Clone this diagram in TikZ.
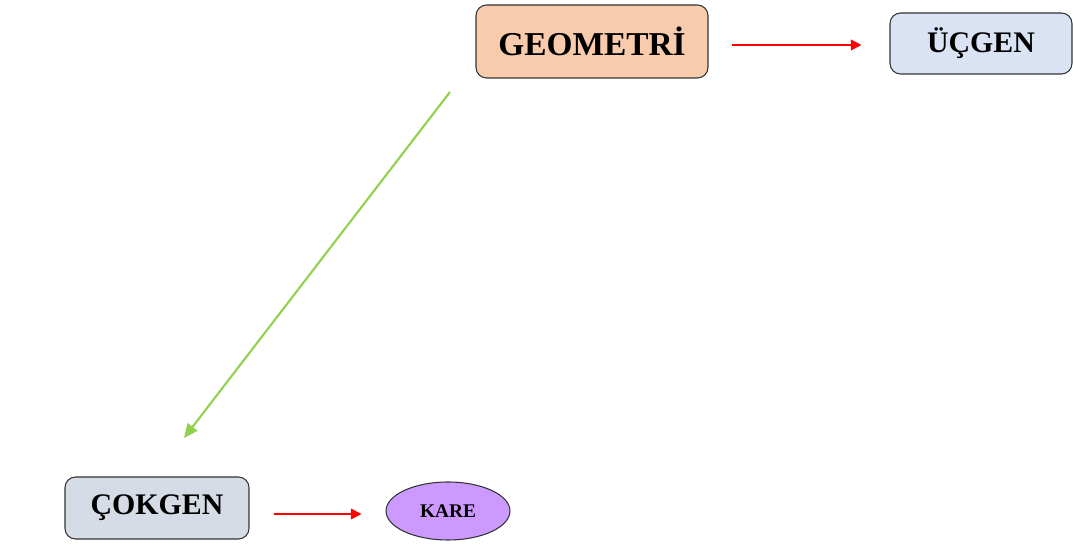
\documentclass[tikz,border=0pt]{standalone}
\usepackage{fontspec}
\setmainfont{Liberation Serif}
\usepackage{xcolor}
\usetikzlibrary{shapes,arrows.meta,positioning,calc}

\definecolor{peach}{HTML}{F8CBAD}
\definecolor{paleblue}{HTML}{DAE3F3}
\definecolor{palegrey}{HTML}{D6DCE5}
\definecolor{violet}{HTML}{CC99FF}
\definecolor{lgreen}{HTML}{92D050}

\begin{document}
\begin{tikzpicture}[
    x=0.02cm, y=-0.02cm,
    >=Triangle,
    box/.style={draw=black!80, rounded corners=6pt, line width=0.6pt, align=center, font=\bfseries},
    redarrow/.style={red, line width=1pt, arrows={-Triangle[length=6pt, width=6pt]}},
]
\useasboundingbox (0,0) rectangle (1073,546);

% Top box
\node[box, fill=peach, minimum width=4.64cm, minimum height=1.46cm, font=\bfseries\fontsize{19}{22}\selectfont] (geo) at (592,41.5) {GEOMETRİ};

% Right box
\node[box, fill=paleblue, minimum width=3.64cm, minimum height=1.22cm, font=\bfseries\fontsize{17}{20}\selectfont] (ucgen) at (981,43.5) {ÜÇGEN};

% Bottom left box
\node[box, fill=palegrey, minimum width=3.68cm, minimum height=1.24cm, font=\bfseries\fontsize{17}{20}\selectfont] (cokgen) at (157,508) {ÇOKGEN};

% Ellipse
\node[draw=black!80, ellipse, fill=violet, line width=0.6pt, minimum width=2.48cm, minimum height=1.16cm, inner sep=0pt, font=\bfseries\fontsize{11}{13}\selectfont] (kare) at (448,511) {KARE};

% Arrows
\draw[redarrow, shorten <=0.46cm, shorten >=0.56cm] (geo.east |- 0,45) -- (ucgen.west |- 0,45);
\draw[redarrow, shorten <=0.48cm, shorten >=0.48cm] (cokgen.east |- 0,514) -- (kare.west |- 0,514);

\coordinate (gstart) at (450,92);
\coordinate (gend) at (184,438);
\draw[lgreen, line width=1.2pt, arrows={-Triangle[length=8pt, width=7pt]}] (gstart) -- (gend);

\end{tikzpicture}
\end{document}
